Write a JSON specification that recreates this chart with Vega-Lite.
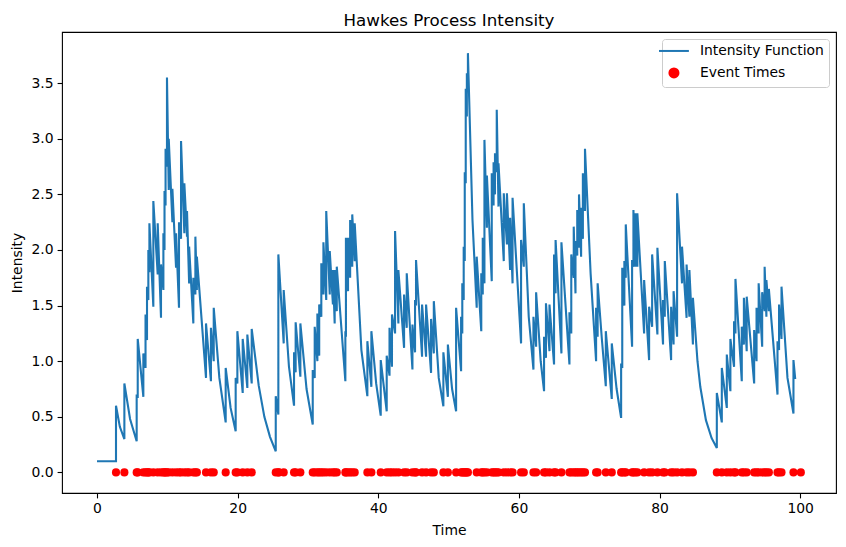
{
"$schema":"https://vega.github.io/schema/vega-lite/v6.json",
"width":774,"height":461,
"autosize":{"type":"none"},
"padding":{"left":62,"top":32,"right":10,"bottom":54},
"title":{"text":"Hawkes Process Intensity","fontSize":16.7,"font":"DejaVu Sans","fontWeight":"normal","color":"black","baseline":"alphabetic","frame":"group","offset":9,"dy":20,"anchor":"middle"},
"config":{
 "view":{"stroke":"black","strokeWidth":1.1},
 "axis":{"grid":false,"domain":false,"tickColor":"black","tickSize":4.9,"tickWidth":1.1,"labelFont":"DejaVu Sans","labelFontSize":13.9,"labelColor":"black","labelPadding":4,"titleFont":"DejaVu Sans","titleFontSize":13.9,"titleFontWeight":"normal","titleColor":"black"},
 "axisX":{"titlePadding":8},
 "axisY":{"titlePadding":7}
},
"datasets":{
"line":[
{"t":0,"v":0.1},{"t":2.7,"v":0.1},{"t":2.7,"v":0.6},{"t":3.25,"v":0.41},{"t":3.89,"v":0.3},{"t":3.89,"v":0.8},{"t":4.7,"v":0.48},{"t":5.64,"v":0.28},{"t":5.64,"v":0.7},{"t":5.79,"v":0.67},{"t":5.79,"v":1.2},
{"t":6.59,"v":0.68},{"t":6.59,"v":1.07},{"t":6.9,"v":0.94},{"t":6.9,"v":1.42},{"t":7.11,"v":1.19},{"t":7.11,"v":1.67},{"t":7.3,"v":1.55},{"t":7.3,"v":2.0},{"t":7.45,"v":1.8},{"t":7.45,"v":2.24},
{"t":8.01,"v":1.49},{"t":8.01,"v":2.44},{"t":8.63,"v":1.78},{"t":8.63,"v":2.24},{"t":9.1,"v":1.39},{"t":9.1,"v":1.87},{"t":9.44,"v":1.64},{"t":9.44,"v":2.15},{"t":9.6,"v":2.0},{"t":9.6,"v":2.53},
{"t":9.75,"v":2.4},{"t":9.75,"v":2.91},{"t":9.95,"v":2.75},{"t":9.95,"v":3.55},{"t":10.2,"v":2.54},{"t":10.2,"v":3.0},{"t":10.72,"v":2.25},{"t":10.72,"v":2.55},{"t":11.24,"v":1.84},{"t":11.24,"v":2.15},
{"t":11.66,"v":1.48},{"t":11.66,"v":2.25},{"t":11.95,"v":2.1},{"t":11.95,"v":2.98},{"t":12.42,"v":2.15},{"t":12.42,"v":2.6},{"t":12.8,"v":2.12},{"t":12.8,"v":2.35},{"t":13.1,"v":1.7},{"t":13.1,"v":2.03},
{"t":13.7,"v":1.34},{"t":13.7,"v":1.75},{"t":13.99,"v":1.6},{"t":13.99,"v":2.12},{"t":14.2,"v":1.64},{"t":14.2,"v":1.94},{"t":15.5,"v":0.85},{"t":15.5,"v":1.34},{"t":16.2,"v":0.82},{"t":16.2,"v":1.3},
{"t":16.6,"v":1.0},{"t":16.6,"v":1.48},{"t":17.4,"v":0.85},{"t":18.3,"v":0.45},{"t":18.3,"v":0.94},{"t":19.0,"v":0.58},{"t":19.72,"v":0.37},{"t":19.72,"v":0.85},{"t":19.96,"v":0.8},{"t":19.96,"v":1.27},
{"t":20.72,"v":0.715},{"t":20.72,"v":1.2},{"t":21.38,"v":0.76},{"t":21.38,"v":1.24},{"t":22.0,"v":0.8},{"t":22.0,"v":1.29},{"t":23.0,"v":0.78},{"t":23.8,"v":0.5},{"t":24.6,"v":0.32},{"t":25.42,"v":0.19},
{"t":25.42,"v":0.685},{"t":25.79,"v":0.52},{"t":25.79,"v":1.96},{"t":26.55,"v":1.16},{"t":26.55,"v":1.64},{"t":27.3,"v":0.95},{"t":28.02,"v":0.6},{"t":28.02,"v":1.08},{"t":28.25,"v":0.9},{"t":28.25,"v":1.35},
{"t":28.92,"v":0.86},{"t":28.92,"v":1.34},{"t":29.8,"v":0.75},{"t":30.68,"v":0.43},{"t":30.68,"v":0.92},{"t":30.96,"v":0.85},{"t":30.96,"v":1.31},{"t":31.34,"v":1.0},{"t":31.34,"v":1.43},{"t":31.6,"v":1.05},
{"t":31.6,"v":1.51},{"t":31.9,"v":1.4},{"t":31.9,"v":1.88},{"t":32.2,"v":1.6},{"t":32.2,"v":2.07},{"t":32.6,"v":1.55},{"t":32.6,"v":2.35},{"t":33.1,"v":1.6},{"t":33.1,"v":1.99},{"t":33.55,"v":1.51},
{"t":33.55,"v":1.82},{"t":33.8,"v":1.34},{"t":33.8,"v":1.82},{"t":34.1,"v":1.45},{"t":34.1,"v":1.85},{"t":35.32,"v":0.82},{"t":35.32,"v":1.27},{"t":35.4,"v":1.22},{"t":35.4,"v":2.11},{"t":35.7,"v":1.63},
{"t":35.7,"v":2.11},{"t":36.0,"v":1.75},{"t":36.0,"v":2.27},{"t":36.3,"v":1.85},{"t":36.3,"v":2.32},{"t":36.65,"v":1.9},{"t":36.65,"v":2.24},{"t":37.6,"v":1.1},{"t":38.45,"v":0.685},{"t":38.45,"v":1.18},
{"t":39.02,"v":0.77},{"t":39.02,"v":1.27},{"t":39.7,"v":0.8},{"t":40.35,"v":0.51},{"t":40.35,"v":1.01},{"t":41.2,"v":0.55},{"t":41.2,"v":1.05},{"t":41.6,"v":0.87},{"t":41.6,"v":1.3},{"t":41.95,"v":0.95},
{"t":41.95,"v":1.42},{"t":42.39,"v":1.25},{"t":42.39,"v":2.17},{"t":42.86,"v":1.34},{"t":42.86,"v":1.82},{"t":43.67,"v":1.12},{"t":43.67,"v":1.6},{"t":44.05,"v":1.3},{"t":44.05,"v":1.79},{"t":44.86,"v":0.925},
{"t":44.86,"v":1.33},{"t":45.23,"v":1.08},{"t":45.23,"v":1.55},{"t":45.37,"v":1.5},{"t":45.37,"v":1.91},{"t":46.23,"v":1.04},{"t":46.23,"v":1.51},{"t":46.8,"v":1.04},{"t":46.8,"v":1.51},{"t":47.51,"v":0.895},
{"t":47.51,"v":1.38},{"t":47.9,"v":1.07},{"t":47.9,"v":1.54},{"t":48.6,"v":0.85},{"t":49.26,"v":0.595},{"t":49.26,"v":1.08},{"t":49.9,"v":0.68},{"t":49.9,"v":1.15},{"t":50.5,"v":0.75},{"t":51.07,"v":0.55},
{"t":51.07,"v":1.48},{"t":51.78,"v":0.91},{"t":51.78,"v":1.4},{"t":51.95,"v":1.25},{"t":51.95,"v":1.7},{"t":52.15,"v":1.55},{"t":52.15,"v":2.03},{"t":52.3,"v":1.9},{"t":52.3,"v":2.7},{"t":52.44,"v":2.6},
{"t":52.44,"v":3.45},{"t":52.6,"v":3.2},{"t":52.6,"v":3.59},{"t":52.75,"v":3.45},{"t":52.75,"v":3.77},{"t":53.4,"v":2.27},{"t":54.0,"v":1.48},{"t":54.0,"v":1.94},{"t":54.65,"v":1.27},{"t":54.65,"v":1.79},
{"t":54.86,"v":1.6},{"t":54.86,"v":2.11},{"t":55.1,"v":1.7},{"t":55.1,"v":2.99},{"t":55.45,"v":2.2},{"t":55.45,"v":2.67},{"t":56.14,"v":1.72},{"t":56.14,"v":2.69},{"t":56.4,"v":2.4},{"t":56.4,"v":2.79},
{"t":56.6,"v":2.5},{"t":56.6,"v":2.87},{"t":56.85,"v":2.7},{"t":56.85,"v":3.26},{"t":57.1,"v":2.39},{"t":57.1,"v":2.78},{"t":57.85,"v":1.9},{"t":57.85,"v":2.51},{"t":58.3,"v":2.05},{"t":58.3,"v":2.51},
{"t":58.75,"v":1.82},{"t":58.75,"v":2.29},{"t":59.1,"v":1.7},{"t":59.1,"v":2.47},{"t":60.31,"v":1.16},{"t":60.31,"v":2.09},{"t":60.7,"v":1.85},{"t":60.7,"v":2.42},{"t":61.4,"v":1.4},{"t":62.07,"v":0.925},
{"t":62.07,"v":1.4},{"t":62.45,"v":1.13},{"t":62.45,"v":1.62},{"t":63.1,"v":1.0},{"t":63.58,"v":0.73},{"t":63.58,"v":1.22},{"t":63.85,"v":1.03},{"t":63.85,"v":1.52},{"t":64.35,"v":1.09},{"t":64.35,"v":1.51},
{"t":65.0,"v":0.97},{"t":65.0,"v":1.96},{"t":65.22,"v":1.61},{"t":65.22,"v":2.09},{"t":66.05,"v":1.07},{"t":66.05,"v":2.07},{"t":67.19,"v":0.97},{"t":67.19,"v":1.44},{"t":67.45,"v":1.25},{"t":67.45,"v":1.96},
{"t":67.8,"v":1.75},{"t":67.8,"v":2.21},{"t":68.05,"v":1.61},{"t":68.05,"v":2.08},{"t":68.3,"v":1.95},{"t":68.3,"v":2.36},{"t":68.55,"v":2.02},{"t":68.55,"v":2.5},{"t":68.85,"v":1.94},{"t":68.85,"v":2.38},
{"t":69.1,"v":2.1},{"t":69.1,"v":2.69},{"t":69.4,"v":2.35},{"t":69.4,"v":2.91},{"t":70.2,"v":1.79},{"t":70.98,"v":1.0},{"t":70.98,"v":1.48},{"t":71.2,"v":1.22},{"t":71.2,"v":1.7},{"t":71.8,"v":1.2},
{"t":72.36,"v":0.775},{"t":72.36,"v":1.27},{"t":73.21,"v":0.66},{"t":73.21,"v":1.16},{"t":73.9,"v":0.75},{"t":74.54,"v":0.49},{"t":74.54,"v":0.98},{"t":74.7,"v":0.94},{"t":74.7,"v":1.84},{"t":75.0,"v":1.5},
{"t":75.0,"v":1.9},{"t":75.2,"v":1.75},{"t":75.2,"v":2.23},{"t":76.1,"v":1.13},{"t":76.1,"v":1.91},{"t":76.29,"v":1.85},{"t":76.29,"v":2.36},{"t":76.55,"v":1.85},{"t":76.55,"v":2.33},{"t":76.85,"v":1.85},
{"t":76.85,"v":2.33},{"t":77.81,"v":1.25},{"t":77.81,"v":1.73},{"t":78.52,"v":1.01},{"t":78.52,"v":1.49},{"t":78.95,"v":1.31},{"t":78.95,"v":1.96},{"t":79.7,"v":1.24},{"t":79.7,"v":2.02},{"t":80.5,"v":1.15},
{"t":80.5,"v":1.55},{"t":80.75,"v":1.4},{"t":80.75,"v":1.9},{"t":81.65,"v":1.01},{"t":81.65,"v":1.49},{"t":82.0,"v":1.15},{"t":82.0,"v":1.63},{"t":82.5,"v":1.22},{"t":82.5,"v":2.51},{"t":83.2,"v":1.7},
{"t":83.2,"v":2.03},{"t":83.85,"v":1.39},{"t":83.85,"v":1.87},{"t":84.25,"v":1.4},{"t":84.25,"v":1.82},{"t":84.75,"v":1.15},{"t":84.75,"v":1.57},{"t":85.4,"v":1.0},{"t":85.8,"v":0.77},{"t":86.6,"v":0.47},
{"t":87.4,"v":0.31},{"t":88.15,"v":0.22},{"t":88.15,"v":0.715},{"t":88.86,"v":0.45},{"t":88.86,"v":0.94},{"t":89.57,"v":0.58},{"t":89.57,"v":1.06},{"t":90.08,"v":0.73},{"t":90.08,"v":1.2},{"t":90.6,"v":0.95},
{"t":90.6,"v":1.36},{"t":90.8,"v":1.25},{"t":90.8,"v":1.74},{"t":91.7,"v":0.82},{"t":91.7,"v":1.31},{"t":92.0,"v":1.15},{"t":92.0,"v":1.57},{"t":92.4,"v":1.09},{"t":92.4,"v":1.58},{"t":93.46,"v":0.8},
{"t":93.46,"v":1.28},{"t":93.8,"v":1.0},{"t":93.8,"v":1.48},{"t":94.1,"v":1.25},{"t":94.1,"v":1.7},{"t":94.6,"v":1.13},{"t":94.6,"v":1.62},{"t":94.95,"v":1.45},{"t":94.95,"v":1.85},{"t":95.2,"v":1.4},
{"t":95.2,"v":1.73},{"t":95.55,"v":1.45},{"t":95.55,"v":1.65},{"t":96.78,"v":0.7},{"t":96.78,"v":1.18},{"t":97.0,"v":1.1},{"t":97.0,"v":1.51},{"t":97.35,"v":1.2},{"t":97.35,"v":1.67},{"t":98.2,"v":0.85},
{"t":99.05,"v":0.53},{"t":99.05,"v":1.01},{"t":99.3,"v":0.84}
],
"events":[
{"t":2.7},{"t":3.89},{"t":5.64},{"t":5.79},{"t":6.59},{"t":6.9},{"t":7.11},{"t":7.3},{"t":7.45},{"t":8.01},{"t":8.63},{"t":9.1},{"t":9.44},{"t":9.6},{"t":9.75},{"t":9.95},{"t":10.2},{"t":10.72},{"t":11.24},{"t":11.66},
{"t":11.95},{"t":12.42},{"t":12.8},{"t":13.1},{"t":13.7},{"t":13.99},{"t":14.2},{"t":15.5},{"t":16.2},{"t":16.6},{"t":18.3},{"t":19.72},{"t":19.96},{"t":20.72},{"t":21.38},{"t":22.0},{"t":25.42},{"t":25.79},{"t":25.85},{"t":26.55},
{"t":28.02},{"t":28.25},{"t":28.92},{"t":30.68},{"t":30.96},{"t":31.34},{"t":31.6},{"t":31.9},{"t":32.2},{"t":32.6},{"t":33.1},{"t":33.55},{"t":33.8},{"t":34.1},{"t":35.32},{"t":35.4},{"t":35.7},{"t":36.0},{"t":36.3},{"t":36.65},
{"t":38.45},{"t":39.02},{"t":40.35},{"t":41.2},{"t":41.6},{"t":41.95},{"t":42.39},{"t":42.86},{"t":43.67},{"t":44.05},{"t":44.86},{"t":45.23},{"t":45.37},{"t":46.23},{"t":46.8},{"t":47.51},{"t":47.9},{"t":49.26},{"t":49.9},{"t":51.07},
{"t":51.78},{"t":51.95},{"t":52.15},{"t":52.3},{"t":52.44},{"t":52.6},{"t":52.75},{"t":54.0},{"t":54.65},{"t":54.86},{"t":55.1},{"t":55.45},{"t":56.14},{"t":56.4},{"t":56.6},{"t":56.85},{"t":57.1},{"t":57.85},{"t":58.3},{"t":58.75},
{"t":59.1},{"t":60.31},{"t":60.7},{"t":62.07},{"t":62.45},{"t":63.58},{"t":63.85},{"t":64.35},{"t":65.0},{"t":65.22},{"t":66.05},{"t":67.19},{"t":67.45},{"t":67.8},{"t":68.05},{"t":68.3},{"t":68.55},{"t":68.85},{"t":69.1},{"t":69.4},
{"t":70.98},{"t":71.2},{"t":72.36},{"t":73.21},{"t":74.54},{"t":74.7},{"t":75.0},{"t":75.2},{"t":76.1},{"t":76.29},{"t":76.55},{"t":76.85},{"t":77.81},{"t":78.52},{"t":78.95},{"t":79.7},{"t":80.5},{"t":80.75},{"t":81.65},{"t":82.0},
{"t":82.5},{"t":83.2},{"t":83.85},{"t":84.25},{"t":84.75},{"t":88.15},{"t":88.86},{"t":89.57},{"t":90.08},{"t":90.6},{"t":90.8},{"t":91.7},{"t":92.0},{"t":92.4},{"t":93.46},{"t":93.8},{"t":94.1},{"t":94.6},{"t":94.95},{"t":95.2},
{"t":95.55},{"t":96.78},{"t":97.0},{"t":97.35},{"t":99.05},{"t":100.1}
]
},
"layer":[
{"data":{"name":"line"},
 "mark":{"type":"line","strokeWidth":2.1,"clip":true},
 "encoding":{
  "x":{"field":"t","type":"quantitative","scale":{"domain":[-4.98,105.1],"nice":false,"zero":false},"axis":{"values":[0,20,40,60,80,100],"title":"Time"}},
  "y":{"field":"v","type":"quantitative","scale":{"domain":[-0.185,3.96],"nice":false,"zero":false},"axis":{"values":[0,0.5,1,1.5,2,2.5,3,3.5],"format":".1f","title":"Intensity"}},
  "color":{"datum":"Intensity Function","type":"nominal","scale":{"domain":["Intensity Function","Event Times"],"range":["#1f77b4","#ff0000"]},
   "legend":{"title":null,"orient":"top-right","offset":7,"padding":5,"rowPadding":6,"symbolSize":82,"symbolStrokeWidth":2,"labelOffset":19,"labelFontSize":13.9,"labelFont":"DejaVu Sans","labelColor":"black","strokeColor":"#cccccc","fillColor":"rgba(255,255,255,0.8)","cornerRadius":3,
    "encode":{"symbols":{"update":{
      "shape":[{"test":"datum.value === 'Intensity Function'","value":"M-3.3,0H3.3"},{"value":"circle"}],
      "stroke":[{"test":"datum.value === 'Intensity Function'","value":"#1f77b4"},{"value":"transparent"}],
      "fill":[{"test":"datum.value === 'Intensity Function'","value":"transparent"},{"value":"#ff0000"}],
      "strokeWidth":{"value":2},"opacity":{"value":1},"size":{"value":82}}}}}},
  "order":{"value":null}
 }},
{"data":{"name":"events"},
 "mark":{"type":"point","filled":true,"size":66,"opacity":1},
 "encoding":{
  "x":{"field":"t","type":"quantitative"},
  "y":{"datum":0,"type":"quantitative"},
  "color":{"datum":"Event Times","type":"nominal"}
 }}
]
}
